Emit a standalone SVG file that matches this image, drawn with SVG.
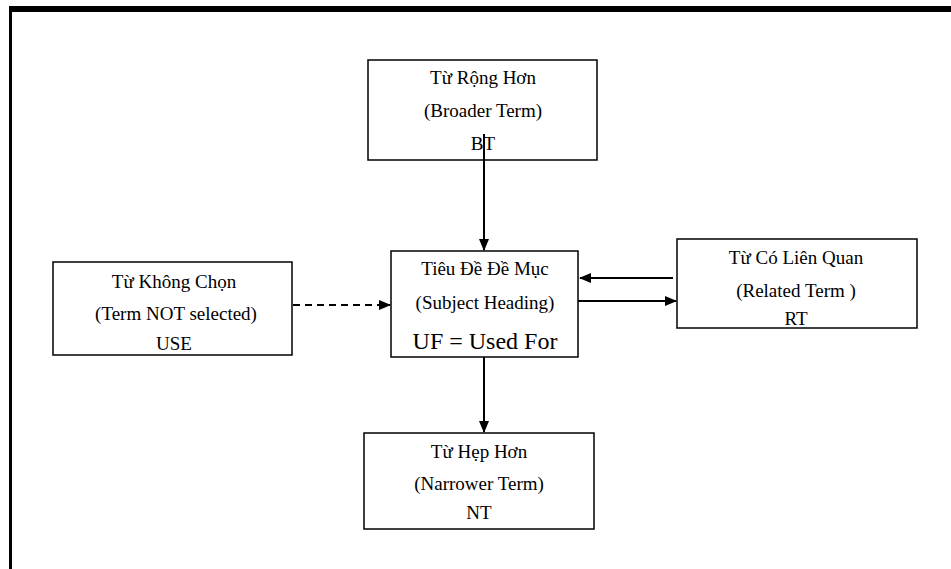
<svg xmlns="http://www.w3.org/2000/svg" width="951" height="569" viewBox="0 0 951 569">
<style>
  .box { fill: #fff; stroke: #000; stroke-width: 1.5; }
  .t { font-family: 'Liberation Serif', 'DejaVu Serif', serif; font-size: 19px; fill: #000; text-anchor: middle; }
  .big { font-size: 24px; }
  .c { stroke: #000; stroke-width: 2; fill: none; }
  .dash { stroke-dasharray: 7 5; }
</style>
<defs>
  <marker id="ah" markerWidth="12" markerHeight="10" refX="11" refY="5" orient="auto" markerUnits="userSpaceOnUse">
    <path d="M0,0 L12,5 L0,10 Z" fill="#000"/>
  </marker>
</defs>
<rect x="0" y="0" width="951" height="569" fill="#fff"/>
<g id="frame">
  <rect x="9" y="6" width="942" height="6" fill="#000"/>
  <rect x="9" y="6" width="3" height="563" fill="#000"/>
</g>
<g id="bt">
  <rect class="box" x="368" y="60" width="229" height="100"/>
  <text class="t" x="483" y="84">Từ Rộng Hơn</text>
  <text class="t" x="483" y="117">(Broader Term)</text>
  <text class="t" x="483" y="150">BT</text>
</g>
<g id="subject">
  <rect class="box" x="391" y="251" width="187" height="106"/>
  <text class="t" x="485" y="275">Tiêu Đề Đề Mục</text>
  <text class="t" x="485" y="309">(Subject Heading)</text>
  <text class="t big" x="485" y="349">UF = Used For</text>
</g>
<g id="use">
  <rect class="box" x="53" y="262" width="239" height="93"/>
  <text class="t" x="174" y="288">Từ Không Chọn</text>
  <text class="t" x="176" y="320">(Term NOT selected)</text>
  <text class="t" x="174" y="350">USE</text>
</g>
<g id="rt">
  <rect class="box" x="677" y="239" width="240" height="89"/>
  <text class="t" x="796" y="264">Từ Có Liên Quan</text>
  <text class="t" x="796" y="297">(Related Term )</text>
  <text class="t" x="796" y="325">RT</text>
</g>
<g id="nt">
  <rect class="box" x="364" y="433" width="230" height="96"/>
  <text class="t" x="479" y="458">Từ Hẹp Hơn</text>
  <text class="t" x="479" y="490">(Narrower Term)</text>
  <text class="t" x="479" y="519">NT</text>
</g>
<g id="connectors">
  <line class="c" x1="484" y1="134" x2="484" y2="250" marker-end="url(#ah)"/>
  <line class="c" x1="484" y1="357" x2="484" y2="432" marker-end="url(#ah)"/>
  <line class="c" x1="673" y1="278" x2="580" y2="278" marker-end="url(#ah)"/>
  <line class="c" x1="578" y1="301" x2="676" y2="301" marker-end="url(#ah)"/>
  <line class="c dash" x1="293" y1="305" x2="390" y2="305" marker-end="url(#ah)"/>
</g>
</svg>
